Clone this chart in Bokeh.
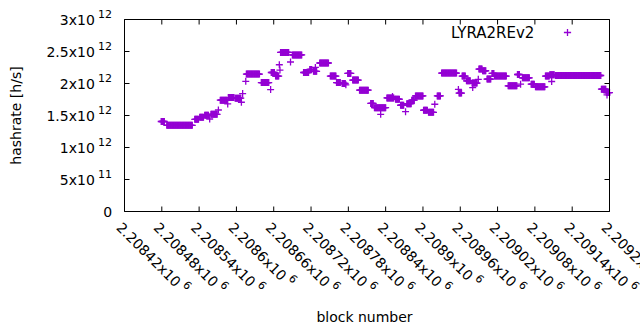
import math
from bokeh.plotting import figure
from bokeh.models import ColumnDataSource, Range1d, Legend, LegendItem, Label
from bokeh.core.properties import value
from bokeh.embed import file_html
from bokeh.resources import INLINE

# ---- data: hashrate (x1e12 h/s) constant over runs of block numbers ----
run_start = [2208479, 2208488, 2208533, 2208541, 2208549, 2208557, 2208559, 2208571,
             2208574, 2208586, 2208587, 2208598, 2208608, 2208610, 2208615, 2208616,
             2208640, 2208655, 2208656, 2208663, 2208669, 2208670, 2208671, 2208687,
             2208690, 2208708, 2208718, 2208724, 2208727, 2208734, 2208751, 2208761,
             2208770, 2208776, 2208779, 2208787, 2208798, 2208816, 2208822, 2208832,
             2208842, 2208851, 2208856, 2208864, 2208872, 2208874, 2208882, 2208888,
             2208901, 2208909, 2208919, 2208923, 2208930, 2208957, 2208958, 2208963,
             2208970, 2208979, 2208980, 2208989, 2208990, 2208996, 2209003, 2209011,
             2209015, 2209037, 2209052, 2209057, 2209060, 2209074, 2209081, 2209097,
             2209104, 2209107, 2209113, 2209187, 2209195, 2209196]
run_end = [2208484, 2208529, 2208539, 2208547, 2208555, 2208557, 2208569, 2208571,
           2208585, 2208586, 2208596, 2208607, 2208608, 2208610, 2208615, 2208637,
           2208652, 2208655, 2208661, 2208668, 2208669, 2208670, 2208684, 2208687,
           2208705, 2208716, 2208721, 2208729, 2208727, 2208748, 2208760, 2208767,
           2208775, 2208776, 2208784, 2208796, 2208812, 2208820, 2208840, 2208832,
           2208853, 2208851, 2208862, 2208869, 2208872, 2208881, 2208886, 2208900,
           2208907, 2208917, 2208919, 2208928, 2208954, 2208957, 2208962, 2208968,
           2208976, 2208987, 2208980, 2208989, 2208995, 2209001, 2209009, 2209014,
           2209034, 2209051, 2209055, 2209057, 2209071, 2209079, 2209096, 2209103,
           2209111, 2209107, 2209186, 2209194, 2209200, 2209196]
run_rate = [1.406, 1.346, 1.440, 1.472, 1.505, 1.445, 1.519, 1.586,
            1.739, 1.681, 1.780, 1.770, 1.707, 1.842, 2.034, 2.147,
            2.015, 1.905, 2.172, 2.116, 2.293, 2.210, 2.486, 2.336,
            2.446, 2.172, 2.219, 2.191, 2.251, 2.320, 2.116, 2.015,
            2.000, 1.979, 2.157, 2.053, 1.896, 1.688, 1.623, 1.519,
            1.775, 1.798, 1.754, 1.660, 1.560, 1.685, 1.739, 1.806,
            1.582, 1.550, 1.676, 1.806, 2.163, 1.908, 1.850, 2.116,
            2.042, 2.007, 1.937, 2.065, 2.226, 2.199, 2.069, 2.157,
            2.116, 1.963, 2.141, 1.990, 2.089, 1.990, 1.948, 2.116,
            2.136, 2.031, 2.125, 1.912, 1.858, 1.822]

x_tick_values = [2208420, 2208480, 2208540, 2208600, 2208660, 2208720, 2208780,
                 2208840, 2208900, 2208960, 2209020, 2209080, 2209140, 2209200]
x_tick_base = ["2.20842x10", "2.20848x10", "2.20854x10", "2.2086x10",
               "2.20866x10", "2.20872x10", "2.20878x10", "2.20884x10",
               "2.2089x10", "2.20896x10", "2.20902x10", "2.20908x10",
               "2.20914x10", "2.2092x10"]
x_tick_exp = ["6"] * 14
y_tick_values = [0, 5e11, 1e12, 1.5e12, 2e12, 2.5e12, 3e12]
y_tick_base = ["0", "5x10", "1x10", "1.5x10", "2x10", "2.5x10", "3x10"]
y_tick_exp = ["", "11", "12", "12", "12", "12", "12"]

series_name = "LYRA2REv2"
x_title = "block number"
y_title = "hashrate [h/s]"

blocks, rates = [], []
for s, e, v in zip(run_start, run_end, run_rate):
    for b in range(s, e + 1):
        blocks.append(b)
        rates.append(v * 1e12)
src = ColumnDataSource(data=dict(x=blocks, y=rates))

# ---- layout (pixels) ----
W, H = 640, 330
FL, FR, FT, FB = 124, 609, 19, 211          # plot box edges on the canvas
x0, x1 = x_tick_values[0], x_tick_values[-1]
y0, y1 = y_tick_values[0], y_tick_values[-1]
xpp = (x1 - x0) / (FR - FL)
ypp = (y1 - y0) / (FB - FT)
RAISE = 5                                   # baseline correction (px, text-local up)

FONT = "DejaVu Sans"
FS, SFS = 14, 11
COLOR = "#9400d3"
TXT = "black"
ADV = {c: 0.636 for c in "0123456789"}
ADV.update({".": 0.318, "x": 0.592})

def text_w(s, fs):
    return sum(ADV[c] for c in s) * fs

p = figure(frame_width=W, frame_height=H, min_border=0,
           x_range=Range1d(x0 - FL * xpp, x1 + (W - FR) * xpp),
           y_range=Range1d(y0 - (H - FB) * ypp, y1 + FT * ypp),
           x_axis_location=None, y_axis_location=None,
           output_backend="svg", toolbar_location=None,
           background_fill_color="white", border_fill_color="white")
p.xgrid.visible = False
p.ygrid.visible = False
p.outline_line_color = None

r = p.scatter("x", "y", source=src, marker="cross", size=7, line_width=1.3,
              line_color=COLOR)

# plot border
p.quad(left=[x0], right=[x1], bottom=[y0], top=[y1], fill_color=None,
       line_color="black", line_width=1)

# inward ticks on all four sides
nx, ny = len(x_tick_values), len(y_tick_values)
tick_src = ColumnDataSource(data=dict(
    x=x_tick_values + x_tick_values + [x0] * ny + [x1] * ny,
    y=[y0] * nx + [y1] * nx + y_tick_values + y_tick_values,
    a=[math.pi / 2] * nx + [-math.pi / 2] * nx + [0.0] * ny + [math.pi] * ny))
p.ray(x="x", y="y", angle="a", length=5, length_units="screen", source=tick_src,
      line_color="black", line_width=1)

def lab(**kw):
    base = dict(text_font=FONT, text_color=TXT, text_font_size=f"{FS}px",
                text_baseline="alphabetic")
    base.update(kw)
    p.add_layout(Label(**base))

# y tick labels (base + raised exponent)
for v, b, e in zip(y_tick_values, y_tick_base, y_tick_exp):
    if e:
        lab(x=x0, y=v, x_offset=-29.7, y_offset=-5 + RAISE, text=b, text_align="right")
        lab(x=x0, y=v, x_offset=-26.6, y_offset=1 + RAISE, text=e, text_align="left",
            text_font_size=f"{SFS}px")
    else:
        lab(x=x0, y=v, x_offset=-12.3, y_offset=-5 + RAISE, text=b, text_align="right")

# x tick labels, rotated -45 degrees
c45 = math.cos(math.pi / 4)
bx, by = -9 + c45 * RAISE, -17 + c45 * RAISE
for v, b, e in zip(x_tick_values, x_tick_base, x_tick_exp):
    lab(x=v, y=y0, x_offset=bx, y_offset=by, angle=-math.pi / 4, text=b,
        text_align="left")
    L = text_w(b, FS) + 3.5
    lab(x=v, y=y0, x_offset=bx + c45 * (L + 6), y_offset=by - c45 * (L - 6),
        angle=-math.pi / 4, text=e, text_align="left", text_font_size=f"{SFS}px")

# axis titles
lab(x=x0, y=y0, x_offset=240, y_offset=-110 + RAISE, text=x_title, text_align="center")
lab(x=x0, y=y0, x_offset=-103.4 - RAISE, y_offset=96, text=y_title, text_align="center",
    angle=math.pi / 2)

# key
lab(x=x0, y=y0, x_offset=409.9, y_offset=173.7 + RAISE, text=series_name,
    text_align="right", text_font_size="15px")
leg = Legend(items=[LegendItem(label=value(""), renderers=[r])],
             location=(567.3 - 9, H - 32 - 9),
             padding=0, margin=0, spacing=0, glyph_width=18, glyph_height=18,
             label_standoff=0, label_width=0, label_height=18,
             border_line_color=None, background_fill_alpha=0,
             label_text_font_size="1px")
p.add_layout(leg, "center")

open("out.html", "w").write(file_html(p, INLINE))
